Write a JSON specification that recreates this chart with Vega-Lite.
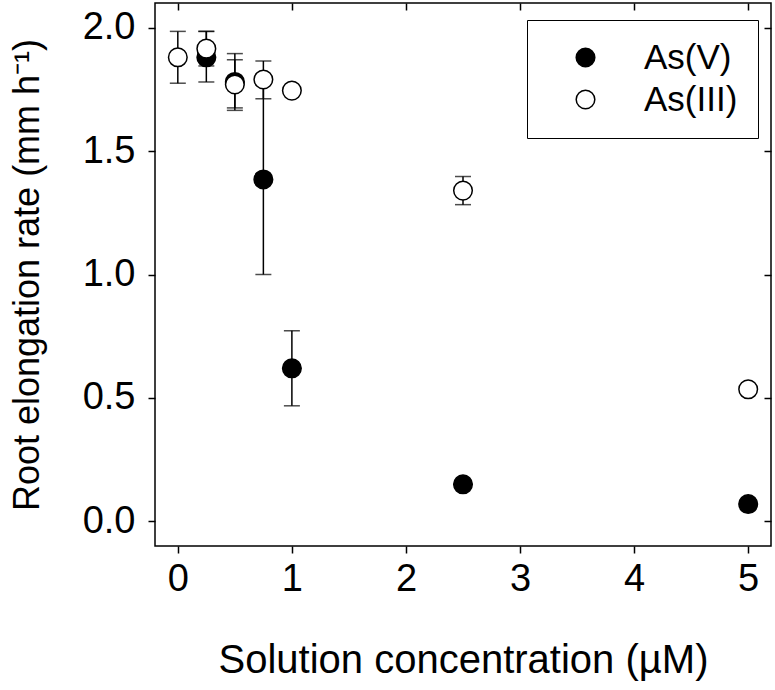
{
  "$schema": "https://vega.github.io/schema/vega-lite/v6.json",
  "width": 616,
  "height": 543,
  "autosize": {"type": "none"},
  "padding": {"left": 155, "top": 3, "right": 4, "bottom": 144},
  "config": {
    "font": "Liberation Sans",
    "view": {"stroke": "black", "strokeWidth": 1.5},
    "axis": {
      "domain": false,
      "grid": false,
      "tickColor": "black",
      "tickWidth": 1.5,
      "tickSize": 7,
      "labelFont": "Liberation Sans",
      "labelFontSize": 38,
      "labelColor": "black",
      "titleFont": "Liberation Sans",
      "titleFontSize": 40,
      "titleFontWeight": "normal",
      "titleColor": "black"
    }
  },
  "data": {
    "values": [
      {"series": "As(V)", "conc": 0.25, "rate": 1.88, "lo": 1.78, "hi": 1.985},
      {"series": "As(V)", "conc": 0.5, "rate": 1.78, "lo": 1.665, "hi": 1.895},
      {"series": "As(V)", "conc": 0.75, "rate": 1.385, "lo": 1.0, "hi": 1.77},
      {"series": "As(V)", "conc": 1.0, "rate": 0.62, "lo": 0.468, "hi": 0.772},
      {"series": "As(V)", "conc": 2.5, "rate": 0.15, "lo": null, "hi": null},
      {"series": "As(V)", "conc": 5.0, "rate": 0.07, "lo": null, "hi": null},
      {"series": "As(III)", "conc": 0.0, "rate": 1.88, "lo": 1.775, "hi": 1.985},
      {"series": "As(III)", "conc": 0.25, "rate": 1.915, "lo": 1.845, "hi": 1.985},
      {"series": "As(III)", "conc": 0.5, "rate": 1.77, "lo": 1.675, "hi": 1.87},
      {"series": "As(III)", "conc": 0.75, "rate": 1.79, "lo": 1.712, "hi": 1.865},
      {"series": "As(III)", "conc": 1.0, "rate": 1.745, "lo": null, "hi": null},
      {"series": "As(III)", "conc": 2.5, "rate": 1.34, "lo": 1.283, "hi": 1.397},
      {"series": "As(III)", "conc": 5.0, "rate": 0.535, "lo": null, "hi": null}
    ]
  },
  "layer": [
    {
      "transform": [{"filter": "datum.lo != null"}],
      "mark": {"type": "rule", "color": "black", "strokeWidth": 1.5},
      "encoding": {
        "x": {
          "field": "conc", "type": "quantitative",
          "scale": {"domain": [-0.2, 5.2], "nice": false, "zero": false},
          "axis": {"orient": "bottom", "values": [0, 1, 2, 3, 4, 5], "format": "d", "labelPadding": 7, "titlePadding": 42, "title": "Solution concentration (µM)"}
        },
        "y": {
          "field": "lo", "type": "quantitative",
          "scale": {"domain": [-0.1, 2.1], "nice": false, "zero": false},
          "axis": {"orient": "left", "values": [0, 0.5, 1, 1.5, 2], "format": ".1f", "labelPadding": 13, "titlePadding": 36, "titleFontSize": 36, "title": "Root elongation rate (mm h⁻¹)"}
        },
        "y2": {"field": "hi"}
      }
    },
    {
      "transform": [{"filter": "datum.lo != null"}],
      "mark": {"type": "tick", "color": "black", "orient": "horizontal", "size": 16, "thickness": 1.5},
      "encoding": {
        "x": {"field": "conc", "type": "quantitative", "axis": {"orient": "top", "values": [0, 1, 2, 3, 4, 5], "labels": false, "tickSize": -7, "title": null}},
        "y": {"field": "lo", "type": "quantitative", "axis": {"orient": "right", "values": [0, 0.5, 1, 1.5, 2], "labels": false, "tickSize": -7, "title": null}}
      }
    },
    {
      "transform": [{"filter": "datum.hi != null"}],
      "mark": {"type": "tick", "color": "black", "orient": "horizontal", "size": 16, "thickness": 1.5},
      "encoding": {
        "x": {"field": "conc", "type": "quantitative", "axis": null},
        "y": {"field": "hi", "type": "quantitative", "axis": null}
      }
    },
    {
      "mark": {"type": "point", "shape": "circle", "filled": true, "size": 346, "stroke": "black", "strokeWidth": 1.5, "opacity": 1},
      "encoding": {
        "x": {"field": "conc", "type": "quantitative", "axis": null},
        "y": {"field": "rate", "type": "quantitative", "axis": null},
        "fill": {
          "field": "series", "type": "nominal",
          "scale": {"domain": ["As(V)", "As(III)"], "range": ["black", "white"]},
          "legend": {
            "orient": "none", "legendX": 372, "legendY": 17, "title": null,
            "strokeColor": "black", "padding": 20,
            "symbolOffset": 21, "symbolSize": 346, "symbolType": "circle",
            "symbolStrokeColor": "black", "symbolStrokeWidth": 1.5,
            "labelFont": "Liberation Sans", "labelFontSize": 35, "labelColor": "black",
            "labelOffset": 41, "rowPadding": 6
          }
        }
      }
    }
  ],
  "resolve": {"axis": {"x": "independent", "y": "independent"}}
}
